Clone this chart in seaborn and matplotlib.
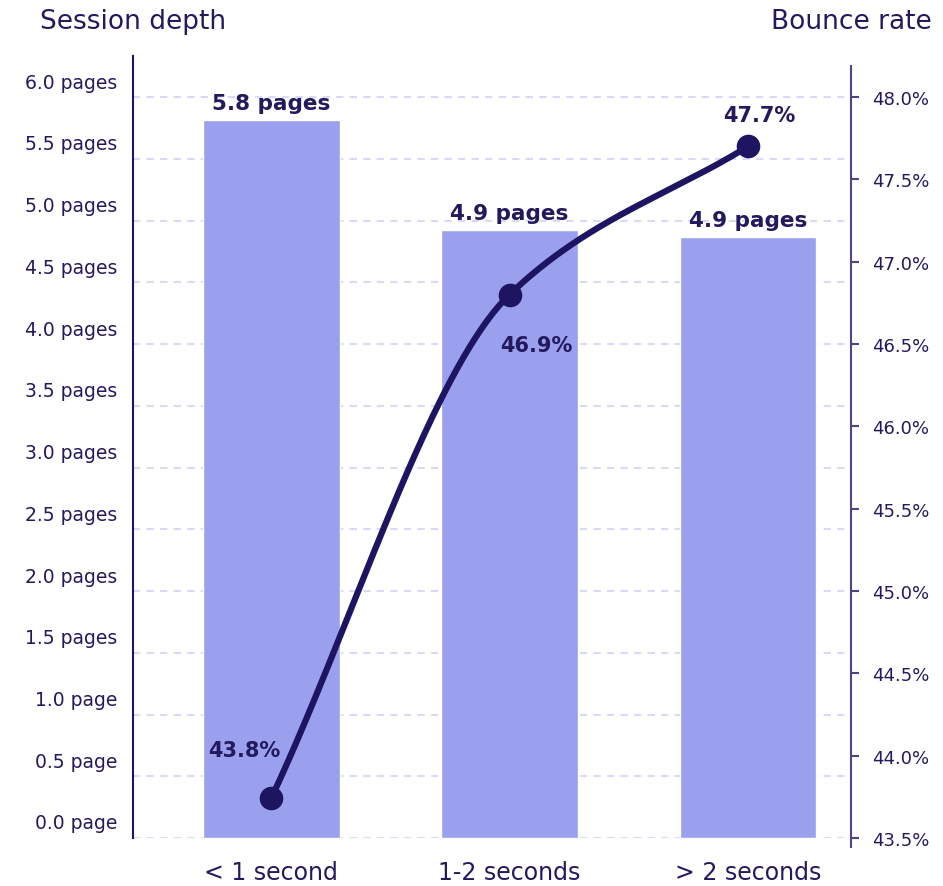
import numpy as np
import pandas as pd
import matplotlib
matplotlib.use("Agg")
import matplotlib.pyplot as plt
import seaborn as sns
from matplotlib.transforms import ScaledTranslation
from matplotlib.ticker import FuncFormatter

# ---- data ----
categories = ["< 1 second", "1-2 seconds", "> 2 seconds"]
session_depth = [5.81, 4.92, 4.87]
bounce_rate = [43.74, 46.80, 47.70]
bounce_labels = ["43.8%", "46.9%", "47.7%"]
depth_ticks = [0.0, 0.5, 1.0, 1.5, 2.0, 2.5, 3.0, 3.5, 4.0, 4.5, 5.0, 5.5, 6.0]
rate_ticks = [43.5, 44.0, 44.5, 45.0, 45.5, 46.0, 46.5, 47.0, 47.5, 48.0]

# ---- style ----
BAR = "#9BA0EE"
LINE = "#1D1462"
TEXT = "#231A5E"
GRID = "#D8DAF7"
RSPINE = "#4B4585"

sns.set_theme(style="white")
plt.rcParams["font.family"] = ["DejaVu Sans"]

fig = plt.figure(figsize=(9.43, 8.87), dpi=100)
W, H = 943, 887
ax = fig.add_axes([133 / W, 48 / H, (851 - 133) / W, (839 - 57) / H])

df = pd.DataFrame({"category": categories, "depth": session_depth})
sns.barplot(data=df, x="category", y="depth", color=BAR, saturation=1,
            width=0.574, ax=ax, zorder=2)

ax.set_ylim(0, 6.332)
ax.set_yticks(depth_ticks)
ax.yaxis.set_major_formatter(FuncFormatter(
    lambda v, p: f"{v:.1f} page" + ("s" if v > 1.0 else "")))
ax.grid(axis="y", color=GRID, linestyle=(0, (3.5, 3.0)), linewidth=1.5)
ax.grid(axis="x", visible=False)
ax.set_axisbelow(True)
for s in ["top", "right", "bottom"]:
    ax.spines[s].set_visible(False)
ax.spines["left"].set_color(LINE)
ax.spines["left"].set_linewidth(1.5)
ax.tick_params(axis="y", length=0, pad=11, labelsize=13.5, labelcolor=TEXT)
ax.tick_params(axis="x", length=0, pad=16, labelsize=17, labelcolor=TEXT)
ax.set_xlabel("")
ax.set_ylabel("")

# bar labels
for i, v in enumerate(session_depth):
    ax.annotate(f"{v:.1f} pages", (i, v), xytext=(0, 11),
                textcoords="offset pixels", ha="center", va="baseline",
                fontsize=15.5, fontweight="bold", color=TEXT)

# ---- right axis: bounce rate ----
ax2 = ax.twinx()
ax2.set_ylim(43.5, 48.249)
ax2.set_yticks(rate_ticks)
ax2.yaxis.set_major_formatter(FuncFormatter(lambda v, p: f"{v:.1f}%"))
ax2.grid(False)
for s in ["top", "left", "bottom"]:
    ax2.spines[s].set_visible(False)
ax2.spines["right"].set_color(RSPINE)
ax2.spines["right"].set_linewidth(1.5)
ax2.spines["right"].set_bounds(43.445, 48.188)
ax2.tick_params(axis="y", length=6, width=1.5, color=RSPINE, pad=9,
                labelsize=13, labelcolor=TEXT, right=True)


def monotone_cubic(x, y, xs):
    x = np.asarray(x, float)
    y = np.asarray(y, float)
    h = np.diff(x)
    d = np.diff(y) / h
    m = np.zeros_like(y)
    m[0], m[-1] = d[0], d[-1]
    for k in range(1, len(x) - 1):
        if d[k - 1] * d[k] <= 0:
            m[k] = 0
        else:
            w1 = 2 * h[k] + h[k - 1]
            w2 = h[k] + 2 * h[k - 1]
            m[k] = (w1 + w2) / (w1 / d[k - 1] + w2 / d[k])
    out = np.empty_like(xs)
    for j, t in enumerate(xs):
        k = min(np.searchsorted(x, t, side="right") - 1, len(x) - 2)
        hk = h[k]
        s = (t - x[k]) / hk
        h00 = 2 * s**3 - 3 * s**2 + 1
        h10 = s**3 - 2 * s**2 + s
        h01 = -2 * s**3 + 3 * s**2
        h11 = s**3 - s**2
        out[j] = h00 * y[k] + h10 * hk * m[k] + h01 * y[k + 1] + h11 * hk * m[k + 1]
    return out


xpos = np.arange(len(categories))
xs = np.linspace(0, len(categories) - 1, 300)
ys = monotone_cubic(xpos, bounce_rate, xs)
ax2.plot(xs, ys, color=LINE, linewidth=4.5, solid_capstyle="round", zorder=3)
sns.scatterplot(x=xpos, y=bounce_rate, s=17**2, color=LINE, edgecolor=LINE,
                linewidth=0, ax=ax2, zorder=4)
ax2.set_xlabel("")
ax2.set_ylabel("")

offsets = [(-27, 42), (27, -56), (11, 25)]
for i, (v, lab) in enumerate(zip(bounce_rate, bounce_labels)):
    ax2.annotate(lab, (i, v), xytext=offsets[i], textcoords="offset pixels",
                 ha="center", va="baseline", fontsize=15, fontweight="bold",
                 color=TEXT)

ax.set_xlim(-0.579, 2.432)

# left tick labels sit slightly above their gridlines
shift = ScaledTranslation(0, 17 / 100, fig.dpi_scale_trans)
for lbl in ax.get_yticklabels():
    lbl.set_transform(lbl.get_transform() + shift)

# axis titles
fig.text(40 / W, 1 - 29 / H, "Session depth", ha="left", va="baseline",
         fontsize=19, color=TEXT)
fig.text(932 / W, 1 - 29 / H, "Bounce rate", ha="right", va="baseline",
         fontsize=19, color=TEXT)

fig.savefig("out.png", dpi=100)
